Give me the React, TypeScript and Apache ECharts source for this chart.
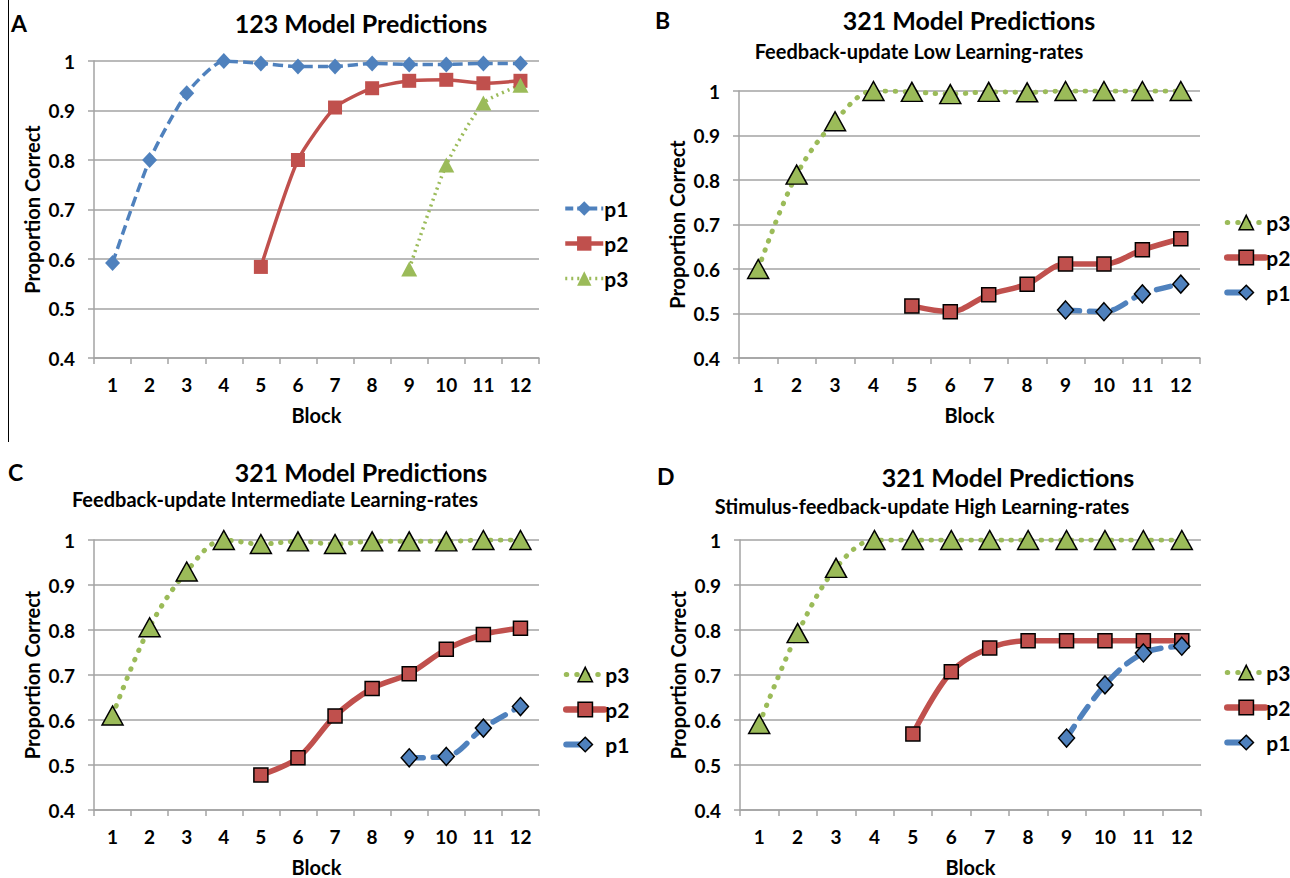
import React, { useEffect, useRef } from 'react';
import * as echarts from 'echarts';

const blocks = ['1', '2', '3', '4', '5', '6', '7', '8', '9', '10', '11', '12'];

// Panel A: 123 Model Predictions
const aP1 = [0.592, 0.8, 0.935, 1.0, 0.995, 0.989, 0.989, 0.995, 0.993, 0.993, 0.995, 0.995];
const aP2 = [null, null, null, null, 0.584, 0.8, 0.906, 0.945, 0.96, 0.962, 0.955, 0.96];
const aP3 = [null, null, null, null, null, null, null, null, 0.58, 0.79, 0.915, 0.951];

// Panel B: Feedback-update Low Learning-rates
const bP3 = [0.6, 0.812, 0.932, 1.0, 0.998, 0.993, 0.998, 0.997, 1.0, 1.0, 1.0, 1.0];
const bP2 = [null, null, null, null, 0.517, 0.504, 0.542, 0.566, 0.611, 0.611, 0.643, 0.668];
const bP1 = [null, null, null, null, null, null, null, null, 0.508, 0.504, 0.544, 0.566];

// Panel C: Feedback-update Intermediate Learning-rates
const cP3 = [0.61, 0.806, 0.93, 1.0, 0.991, 0.997, 0.991, 0.997, 0.997, 0.997, 1.0, 1.0];
const cP2 = [null, null, null, null, 0.478, 0.516, 0.609, 0.67, 0.703, 0.757, 0.79, 0.804];
const cP1 = [null, null, null, null, null, null, null, null, 0.516, 0.519, 0.582, 0.63];

// Panel D: Stimulus-feedback-update High Learning-rates
const dP3 = [0.591, 0.793, 0.938, 1.0, 1.0, 1.0, 1.0, 1.0, 1.0, 1.0, 1.0, 1.0];
const dP2 = [null, null, null, null, 0.569, 0.707, 0.76, 0.776, 0.776, 0.776, 0.776, 0.776];
const dP1 = [null, null, null, null, null, null, null, null, 0.56, 0.678, 0.749, 0.764];

const yMin = 0.4;
const yMax = 1;
const yStep = 0.1;

const BLUE = '#4F81BD';
const RED = '#C0504D';
const GREEN = '#9BBB59';
const GRID_GRAY = '#a3a3a3';
const FONT = 'Lato';

const seriesStyleA: Record<string, any> = {
  p1: {
    symbol: 'diamond', symbolSize: [15, 16],
    itemStyle: { color: BLUE },
    lineStyle: { color: BLUE, width: 3.5, type: [10, 5] },
    legendLine: { color: BLUE, width: 4, type: [8, 4] },
  },
  p2: {
    symbol: 'rect', symbolSize: 14,
    itemStyle: { color: RED },
    lineStyle: { color: RED, width: 3.5, type: 'solid' },
    legendLine: { color: RED, width: 4.5, type: 'solid' },
  },
  p3: {
    symbol: 'triangle', symbolSize: [16, 15],
    itemStyle: { color: GREEN },
    lineStyle: { color: GREEN, width: 3.5, type: [2, 4] },
    legendLine: { color: GREEN, width: 3.5, type: [2, 4] },
  },
};

const seriesStyleB: Record<string, any> = {
  p1: {
    symbol: 'diamond', symbolSize: [16, 18],
    itemStyle: { color: BLUE, borderColor: '#000', borderWidth: 1.5 },
    lineStyle: { color: BLUE, width: 5.5, type: [14, 10], cap: 'round' },
    legendLine: { color: BLUE, width: 6, type: [16, 30], cap: 'round' },
  },
  p2: {
    symbol: 'rect', symbolSize: 14,
    itemStyle: { color: RED, borderColor: '#000', borderWidth: 1.5 },
    lineStyle: { color: RED, width: 5.5, type: 'solid' },
    legendLine: { color: RED, width: 6.5, type: 'solid', cap: 'round' },
  },
  p3: {
    symbol: 'triangle', symbolSize: [21, 19],
    itemStyle: { color: GREEN, borderColor: '#000', borderWidth: 1.5 },
    lineStyle: { color: GREEN, width: 5, type: [0.5, 9.5], cap: 'round' },
    legendLine: { color: GREEN, width: 5, type: [0.5, 10], cap: 'round' },
  },
};

const panels = [
  {
    id: 'A', grid: { left: 94, top: 61, width: 445, height: 297 },
    title: '123 Model Predictions', titleX: 361, titleY: 10,
    sub: '', subX: 0, subY: 0,
    letterX: 11, letterY: 11,
    legend: { left: 563, top: 198 }, order: ['p1', 'p2', 'p3'],
    data: { p1: aP1, p2: aP2, p3: aP3 }, styles: seriesStyleA, smooth: 0.2,
  },
  {
    id: 'B', grid: { left: 739, top: 91, width: 461, height: 267 },
    title: '321 Model Predictions', titleX: 969, titleY: 7,
    sub: 'Feedback-update Low Learning-rates', subX: 919, subY: 41,
    letterX: 655, letterY: 8,
    legend: { left: 1224, top: 212 }, order: ['p3', 'p2', 'p1'],
    data: { p1: bP1, p2: bP2, p3: bP3 }, styles: seriesStyleB, smooth: 0.35,
  },
  {
    id: 'C', grid: { left: 94, top: 540, width: 445, height: 272 },
    title: '321 Model Predictions', titleX: 361, titleY: 459,
    sub: 'Feedback-update Intermediate Learning-rates', subX: 275, subY: 489,
    letterX: 8, letterY: 460,
    legend: { left: 563, top: 664 }, order: ['p3', 'p2', 'p1'],
    data: { p1: cP1, p2: cP2, p3: cP3 }, styles: seriesStyleB, smooth: 0.35,
  },
  {
    id: 'D', grid: { left: 740, top: 540, width: 461, height: 273 },
    title: '321 Model Predictions', titleX: 1008, titleY: 464,
    sub: 'Stimulus-feedback-update High Learning-rates', subX: 922, subY: 496,
    letterX: 657, letterY: 464,
    legend: { left: 1224, top: 662 }, order: ['p3', 'p2', 'p1'],
    data: { p1: dP1, p2: dP2, p3: dP3 }, styles: seriesStyleB, smooth: 0.35,
  },
];

export default function App() {
  const ref = useRef<HTMLDivElement>(null);

  useEffect(() => {
    const chart = echarts.init(ref.current!, null, { renderer: 'svg' });

    const grids: any[] = [];
    const xAxes: any[] = [];
    const yAxes: any[] = [];
    const series: any[] = [];
    const legends: any[] = [];
    const titles: any[] = [];
    const graphics: any[] = [];

    panels.forEach((p, i) => {
      grids.push({ ...p.grid, containLabel: false });
      xAxes.push({
        type: 'category', gridIndex: i, data: blocks, boundaryGap: true,
        name: 'Block', nameLocation: 'middle', nameGap: 47,
        nameTextStyle: { fontFamily: FONT, fontWeight: 'bold', fontSize: 20, color: '#000' },
        axisLine: { show: true, lineStyle: { color: GRID_GRAY, width: 1.5 } },
        axisTick: { show: true, interval: 0, length: 6, lineStyle: { color: GRID_GRAY, width: 1.5 } },
        axisLabel: { interval: 0, margin: 17, fontFamily: FONT, fontWeight: 'bold', fontSize: 19, color: '#000' },
        splitLine: { show: false },
      });
      yAxes.push({
        type: 'value', gridIndex: i, min: yMin, max: yMax, interval: yStep,
        name: 'Proportion Correct', nameLocation: 'middle', nameGap: 52, nameRotate: 90,
        nameTextStyle: { fontFamily: FONT, fontWeight: 'bold', fontSize: 20, color: '#000' },
        axisLine: { show: true, lineStyle: { color: GRID_GRAY, width: 1.5 } },
        axisTick: { show: true, length: 6, lineStyle: { color: GRID_GRAY, width: 1.5 } },
        axisLabel: {
          margin: 19, fontFamily: FONT, fontWeight: 'bold', fontSize: 19, color: '#000',
          formatter: (v: number) => String(Number(v.toFixed(1))),
        },
        splitLine: { show: true, lineStyle: { color: GRID_GRAY, width: 1.5 } },
      });
      const legendData: any[] = [];
      p.order.forEach((k) => {
        const st = p.styles[k];
        const name = `${p.id}:${k}`;
        legendData.push({ name, lineStyle: st.legendLine, itemStyle: st.itemStyle });
        series.push({
          type: 'line', name, xAxisIndex: i, yAxisIndex: i,
          data: (p.data as any)[k],
          smooth: p.smooth,
          showSymbol: true,
          symbol: st.symbol, symbolSize: st.symbolSize,
          itemStyle: st.itemStyle, lineStyle: st.lineStyle,
          connectNulls: false,
          z: 3,
        });
      });
      legends.push({
        orient: 'vertical', left: p.legend.left, top: p.legend.top, padding: 0,
        data: legendData, itemWidth: 38, itemHeight: 18, itemGap: 14,
        formatter: (n: string) => n.split(':')[1],
        textStyle: { fontFamily: FONT, fontWeight: 'bold', fontSize: 21, color: '#000', padding: [0, 0, 0, -4] },
        selectedMode: false,
      });
      titles.push({
        text: p.title, left: p.titleX, top: p.titleY, textAlign: 'center', padding: 0,
        textStyle: { fontFamily: FONT, fontWeight: 'bold', fontSize: 25, color: '#000' },
      });
      if (p.sub) {
        titles.push({
          text: p.sub, left: p.subX, top: p.subY, textAlign: 'center', padding: 0,
          textStyle: { fontFamily: FONT, fontWeight: 'bold', fontSize: 20, color: '#000' },
        });
      }
      titles.push({
        text: p.id, left: p.letterX, top: p.letterY, padding: 0,
        textStyle: { fontFamily: FONT, fontWeight: 'bold', fontSize: 23, color: '#000' },
      });
    });

    graphics.push({
      type: 'line', shape: { x1: 8.5, y1: 0, x2: 8.5, y2: 442 },
      style: { stroke: '#000', lineWidth: 1 },
    });

    chart.setOption({
      animation: false,
      backgroundColor: '#fff',
      textStyle: { fontFamily: FONT },
      title: titles,
      grid: grids,
      xAxis: xAxes,
      yAxis: yAxes,
      legend: legends,
      series,
      graphic: graphics,
    });

    return () => chart.dispose();
  }, []);

  return (
    <div
      ref={ref}
      style={{ position: 'absolute', left: 0, top: 0, width: 1290, height: 878, background: '#fff' }}
    />
  );
}
